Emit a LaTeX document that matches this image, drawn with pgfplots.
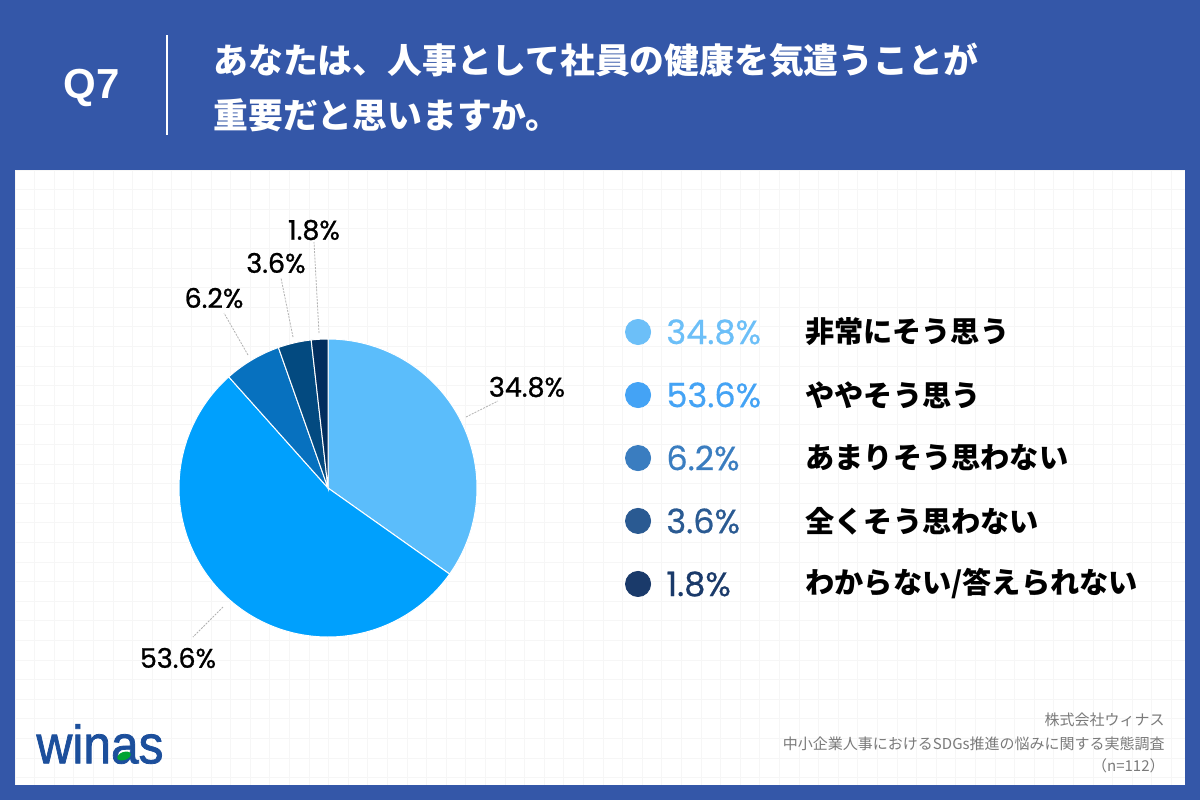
\documentclass[border=0pt]{standalone}
\usepackage{pgfplots}
\pgfplotsset{compat=1.18}
\usepackage{fontspec}
\setmainfont{Noto Sans CJK JP}
\newfontfamily\pop{Poppins}[FakeBold=0.5]
\newfontfamily\popm{Poppins}[FakeBold=0.9]
\newfontfamily\arial{Liberation Sans}
\newfontfamily\logofont{Liberation Sans}[FakeBold=1.5]
\definecolor{bgblue}{HTML}{3457A8}
\definecolor{gridc}{HTML}{F6F6F6}
\definecolor{sA}{HTML}{5BBDFB}
\definecolor{sB}{HTML}{00A0FD}
\definecolor{sC}{HTML}{0771BF}
\definecolor{sD}{HTML}{034A80}
\definecolor{sE}{HTML}{022E5E}
\definecolor{lA}{HTML}{6CBFF8}
\definecolor{lB}{HTML}{44A3F5}
\definecolor{lC}{HTML}{3A7DC0}
\definecolor{lD}{HTML}{2A5A92}
\definecolor{lE}{HTML}{1A3A6A}
\definecolor{logo}{HTML}{1C4F9C}
\definecolor{foot}{HTML}{7A7A7A}
% survey values (percent)
\def\vA{34.8}\def\vB{53.6}\def\vC{6.2}\def\vD{3.6}\def\vE{1.8}
\pgfmathsetmacro{\aA}{90}
\pgfmathsetmacro{\aB}{\aA-3.6*\vA}
\pgfmathsetmacro{\aC}{\aB-3.6*\vB}
\pgfmathsetmacro{\aD}{\aC-3.6*\vC}
\pgfmathsetmacro{\aE}{\aD-3.6*\vD}
\pgfmathsetmacro{\aF}{\aE-3.6*\vE}
\begin{document}
\begin{tikzpicture}[x=0.5pt,y=-0.5pt]
\fill[bgblue] (0,0) rectangle (1200,800);
\fill[white] (15,170) rectangle (1185,785);
\begin{scope}
\clip (15,170) rectangle (1185,785);
\foreach \i in {0,...,60} \draw[gridc, line width=0.4pt] ({15+19.6*\i},170) -- ({15+19.6*\i},785);
\foreach \j in {0,...,32} \draw[gridc, line width=0.4pt] (15,{170+19.6*\j}) -- (1185,{170+19.6*\j});
\end{scope}
% header
\node[white, font=\arial\bfseries\fontsize{21}{21}\selectfont] at (92,88) {Q7};
\draw[white, line width=0.75pt] (167,35) -- (167,135);
\node[white, anchor=west, inner sep=0, font=\bfseries\fontsize{17.4}{17.4}\selectfont] at (213,60) {あなたは、人事として社員の健康を気遣うことが};
\node[white, anchor=west, inner sep=0, font=\bfseries\fontsize{17.4}{17.4}\selectfont] at (213,115) {重要だと思いますか。};
% pie
\coordinate (pc) at (328,488);
\begin{axis}[at={(pc)}, anchor=center, x=74.5pt, y=74.5pt,
  xmin=-1, xmax=1, ymin=-1, ymax=1, hide axis, clip=false]
\addplot[fill=sA, draw=white, line width=0.5pt, domain=\aB:\aA, samples=80, variable=\t] ({cos(\t)},{sin(\t)}) -- (axis cs:0,0) -- cycle;
\addplot[fill=sB, draw=white, line width=0.5pt, domain=\aC:\aB, samples=120, variable=\t] ({cos(\t)},{sin(\t)}) -- (axis cs:0,0) -- cycle;
\addplot[fill=sC, draw=white, line width=0.5pt, domain=\aD:\aC, samples=20, variable=\t] ({cos(\t)},{sin(\t)}) -- (axis cs:0,0) -- cycle;
\addplot[fill=sD, draw=white, line width=0.5pt, domain=\aE:\aD, samples=20, variable=\t] ({cos(\t)},{sin(\t)}) -- (axis cs:0,0) -- cycle;
\addplot[fill=sE, draw=white, line width=0.5pt, domain=\aF:\aE, samples=20, variable=\t] ({cos(\t)},{sin(\t)}) -- (axis cs:0,0) -- cycle;
% legend markers
\addplot[color=lA, only marks, mark=*, mark size=6.3pt, mark options={draw=lA, fill=lA}] coordinates {(2.081,1.047)};
\addplot[color=lB, only marks, mark=*, mark size=6.3pt, mark options={draw=lB, fill=lB}] coordinates {(2.081,0.624)};
\addplot[color=lC, only marks, mark=*, mark size=6.3pt, mark options={draw=lC, fill=lC}] coordinates {(2.081,0.201)};
\addplot[color=lD, only marks, mark=*, mark size=6.3pt, mark options={draw=lD, fill=lD}] coordinates {(2.081,-0.221)};
\addplot[color=lE, only marks, mark=*, mark size=6.3pt, mark options={draw=lE, fill=lE}] coordinates {(2.081,-0.644)};
\end{axis}
% leader lines
\begin{scope}[gray!60, line width=0.4pt, dash pattern=on 1pt off 0.6pt]
\draw (319,333) -- (314,242);
\draw (293,337) -- (281,278);
\draw (248,355) -- (224,313);
\draw (466,417) -- (498,401);
\draw (223,607) -- (193,637);
\end{scope}
% pie labels
\begin{scope}[font=\popm\fontsize{13.5}{13.5}\selectfont]
\node at (314,230) {1.8\%};
\node at (276,263) {3.6\%};
\node at (214,298) {6.2\%};
\node at (527,387) {34.8\%};
\node at (178,658) {53.6\%};
\end{scope}
% legend text
\begin{scope}[font=\pop\fontsize{16.8}{16.8}\selectfont]
\node[anchor=west, inner sep=0, text=lA] at (666,332) {34.8\%};
\node[anchor=west, inner sep=0, text=lB] at (666,395) {53.6\%};
\node[anchor=west, inner sep=0, text=lC] at (666,458) {6.2\%};
\node[anchor=west, inner sep=0, text=lD] at (666,521) {3.6\%};
\node[anchor=west, inner sep=0, text=lE] at (666,584) {1.8\%};
\end{scope}
\begin{scope}[font=\bfseries\fontsize{14.6}{14.6}\selectfont]
\node[anchor=west, inner sep=0] at (805,332) {非常にそう思う};
\node[anchor=west, inner sep=0] at (805,395) {ややそう思う};
\node[anchor=west, inner sep=0] at (805,458) {あまりそう思わない};
\node[anchor=west, inner sep=0] at (805,521) {全くそう思わない};
\node[anchor=west, inner sep=0] at (805,584) {わからない/答えられない};
\end{scope}
% footer
\begin{scope}[text=foot, font=\fontsize{7.5}{7.5}\selectfont]
\node[anchor=east, inner sep=0] at (1165,720) {株式会社ウィナス};
\node[anchor=east, inner sep=0] at (1165,744) {中小企業人事におけるSDGs推進の悩みに関する実態調査};
\node[anchor=east, inner sep=0] at (1165,766) {（n=112）};
\end{scope}
% logo
\node[text=logo, font=\logofont\fontsize{27}{27}\selectfont, xscale=0.92, inner sep=0] at (100,744) {winas};
\fill[green!55!black!80!cyan, rotate around={20:(124,756)}] (124,756) ellipse (7 and 4);
\end{tikzpicture}
\end{document}
